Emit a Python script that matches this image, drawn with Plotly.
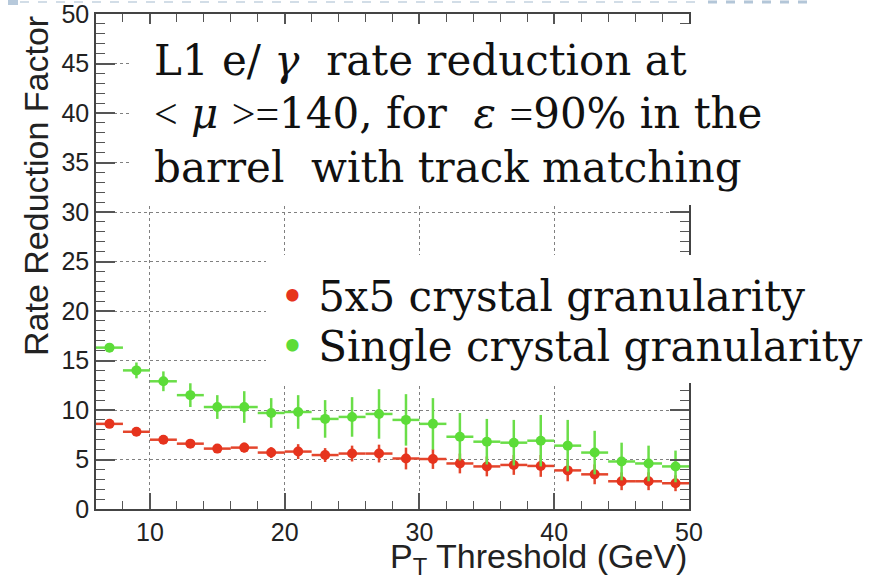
import plotly.graph_objects as go

# Threshold bin centres (GeV), bins are 2 GeV wide
pt_threshold = [7, 9, 11, 13, 15, 17, 19, 21, 23, 25, 27, 29, 31, 33, 35, 37, 39, 41, 43, 45, 47, 49]
bin_half_width = 1.0

# 5x5 crystal granularity
rate_5x5 = [8.6, 7.8, 7.0, 6.6, 6.1, 6.2, 5.7, 5.8, 5.45, 5.6, 5.6, 5.1, 5.05, 4.6, 4.3, 4.45, 4.35, 3.9, 3.5, 2.8, 2.8, 2.6]
err_5x5 = [0.3, 0.3, 0.4, 0.4, 0.45, 0.5, 0.55, 0.75, 0.7, 0.8, 0.9, 1.1, 1.0, 1.0, 1.0, 1.0, 1.1, 1.1, 1.0, 0.9, 0.9, 0.8]

# Single crystal granularity
rate_single = [16.3, 14.0, 12.9, 11.5, 10.3, 10.3, 9.7, 9.8, 9.1, 9.3, 9.6, 9.0, 8.6, 7.3, 6.8, 6.7, 6.9, 6.4, 5.7, 4.8, 4.6, 4.3]
err_single = [0.4, 0.8, 1.0, 1.2, 1.2, 1.6, 1.5, 1.7, 1.9, 2.0, 2.5, 2.6, 2.6, 2.4, 2.3, 2.3, 2.6, 2.6, 2.2, 1.9, 1.8, 1.6]

x_range = [6, 50]
y_range = [0, 50]
x_ticks = [10, 20, 30, 40, 50]
y_ticks = [0, 5, 10, 15, 20, 25, 30, 35, 40, 45, 50]

RED = "#e6331d"
RED_BAR = "#e4452c"
GREEN = "#5cdc38"
GREEN_BAR = "#6ade48"

W, H = 879, 579
ML, MR, MT, MB = 96, 190, 14, 70
PW, PH = W - ML - MR, H - MT - MB


def px_x(px):
    return (px - ML) / PW


def px_y(py):
    return (H - MB - py) / PH


fig = go.Figure()

for vals, errs, c, cb in [(rate_5x5, err_5x5, RED, RED_BAR),
                          (rate_single, err_single, GREEN, GREEN_BAR)]:
    fig.add_trace(go.Scatter(
        x=pt_threshold, y=vals, mode="markers",
        marker=dict(color=c, size=10, line=dict(width=0)),
        error_y=dict(type="data", array=errs, color=cb, thickness=2.5, width=0),
        error_x=dict(type="constant", value=bin_half_width, color=cb, thickness=2.5, width=0),
        showlegend=False, hoverinfo="x+y",
    ))

axis_common = dict(
    showline=True, linecolor="#444", linewidth=1.5, mirror="ticks",
    ticks="inside", tickcolor="#555", tickwidth=1.5,
    showgrid=True, gridcolor="#808080", gridwidth=1, griddash="dot",
    zeroline=False, ticklabeloverflow="allow", automargin=False,
    tickfont=dict(family="Liberation Sans, Arial, sans-serif", size=25, color="#222"),
)

fig.update_xaxes(range=x_range, tickvals=x_ticks, ticklen=16,
                 minor=dict(dtick=2, tick0=0, ticks="inside", ticklen=8,
                            tickcolor="#555", tickwidth=1.3, showgrid=False),
                 **axis_common)
fig.update_yaxes(range=y_range, tickvals=y_ticks, ticklen=19,
                 minor=dict(dtick=1, tick0=0, ticks="inside", ticklen=9,
                            tickcolor="#555", tickwidth=1.3, showgrid=False),
                 **axis_common)

shapes = [
    # white panels behind the captions
    dict(type="rect", xref="paper", yref="paper", layer="above",
         x0=px_x(132), x1=px_x(885), y0=px_y(205), y1=px_y(24),
         fillcolor="white", line=dict(width=0)),
    dict(type="rect", xref="paper", yref="paper", layer="above",
         x0=px_x(266), x1=px_x(885), y0=px_y(383), y1=px_y(255),
         fillcolor="white", line=dict(width=0)),
    # slide header rule
    dict(type="line", xref="paper", yref="paper", layer="above",
         x0=px_x(20), x1=px_x(702), y0=px_y(2), y1=px_y(2),
         line=dict(color="#c3d2e0", width=1.5, dash="dash")),
    dict(type="line", xref="paper", yref="paper", layer="above",
         x0=px_x(708), x1=px_x(813), y0=px_y(2), y1=px_y(2),
         line=dict(color="#b3c6d8", width=3, dash="dash")),
    dict(type="rect", xref="paper", yref="paper", layer="above",
         x0=px_x(8), x1=px_x(18), y0=px_y(5), y1=px_y(0),
         fillcolor="#b7c9db", line=dict(width=0)),
]

serif = dict(family="DejaVu Serif, serif", size=42, color="#111")
nb = "\u00a0"


def narrow(s):
    # relational signs set in a narrower serif face
    return f"<span style='font-family:Liberation Serif'>{s}</span>"


caption_lines = [
    (f"L1 e/{nb}<i>γ</i>{nb}{nb}rate reduction at", 61),
    (f"{narrow('&lt;')}{nb}<i>μ</i>{nb}{narrow('&gt;=')}140, for{nb}{nb}<i>ε</i>{nb}{narrow('=')}90% in the", 114),
    (f"barrel{nb}{nb}with track matching", 167),
]
legend_lines = [
    (f"<span style='color:{RED}'>•</span> 5x5 crystal granularity", 296),
    (f"<span style='color:{GREEN}'>•</span> Single crystal granularity", 346),
]

annotations = []
for text, yc in caption_lines:
    annotations.append(dict(text=text, xref="paper", yref="paper",
                            x=px_x(152), y=px_y(yc), xanchor="left", yanchor="middle",
                            showarrow=False, font=serif))
for text, yc in legend_lines:
    annotations.append(dict(text=text, xref="paper", yref="paper",
                            x=px_x(278), y=px_y(yc), xanchor="left", yanchor="middle",
                            showarrow=False, font=serif))

sans_title = dict(family="Liberation Sans, Arial, sans-serif", size=34, color="#222")
annotations.append(dict(text="Rate Reduction Factor", textangle=-90,
                        xref="paper", yref="paper", x=px_x(36), y=1.0,
                        xanchor="center", yanchor="top", showarrow=False, font=sans_title))
annotations.append(dict(text="P<sub>T</sub> Threshold (GeV)",
                        xref="paper", yref="paper", x=1.0, y=px_y(558),
                        xanchor="right", yanchor="middle", showarrow=False, font=sans_title))

fig.update_layout(
    width=W, height=H,
    margin=dict(l=ML, r=MR, t=MT, b=MB),
    paper_bgcolor="white", plot_bgcolor="white",
    shapes=shapes, annotations=annotations,
)

fig.write_html("out.html")
